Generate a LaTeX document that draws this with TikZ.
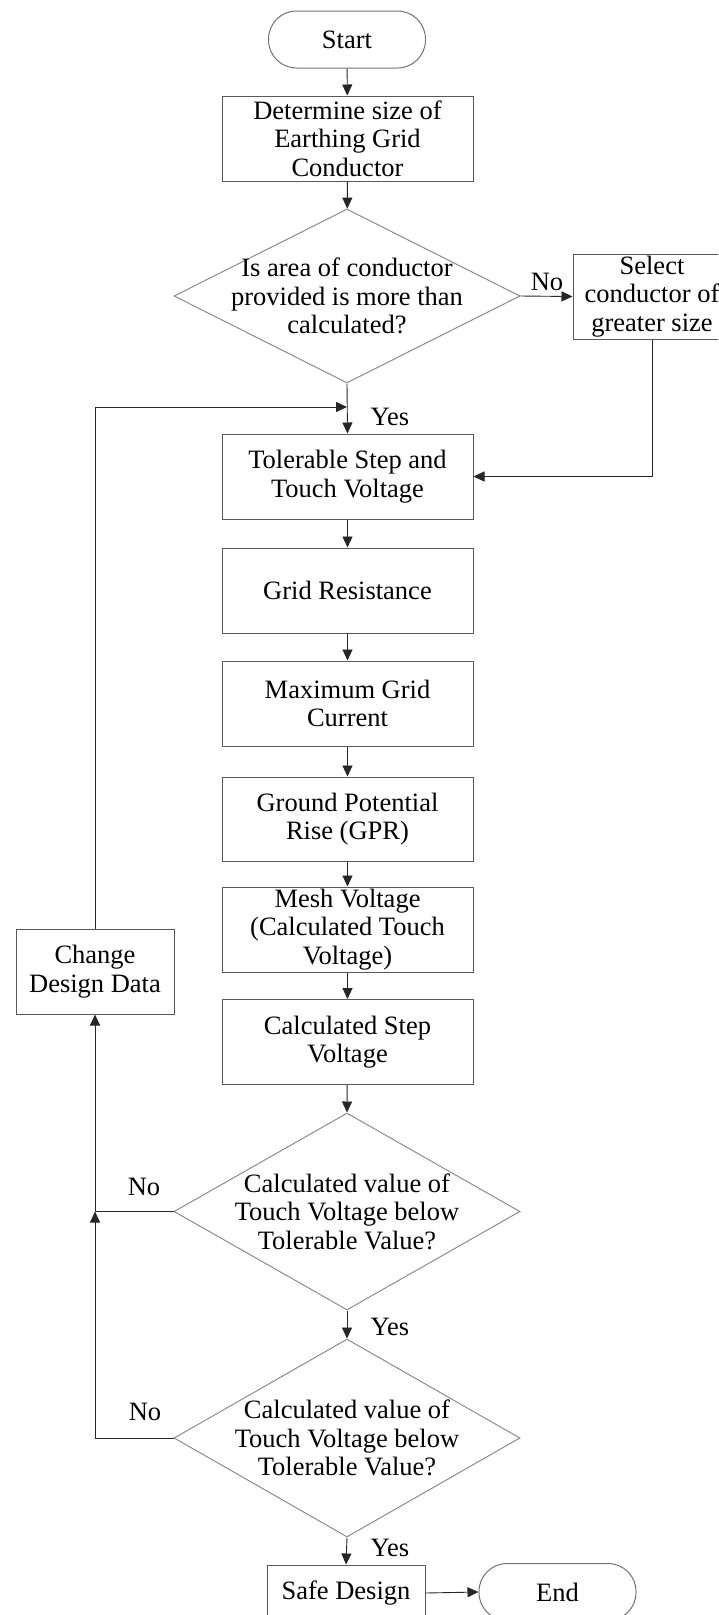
\documentclass[tikz,border=0pt]{standalone}
\usepackage{fontspec}
\setmainfont{Liberation Serif}
\usetikzlibrary{shapes.geometric,arrows.meta}
\begin{document}
\begin{tikzpicture}[x=1pt,y=-1pt,
  font=\fontsize{26.5}{28.5}\selectfont,
  box/.style={draw=black!65, line width=1pt, minimum width=251pt, minimum height=85pt, inner sep=0pt, align=center},
  term/.style={draw=black!55, line width=1pt, rounded corners=28pt, minimum width=157pt, minimum height=57pt, inner sep=0pt},
  dia/.style={draw=black!45, line width=1pt, diamond, minimum width=346pt, minimum height=#1, inner sep=0pt},
  txt/.style={align=center, inner sep=0pt},
  lbl/.style={inner sep=0pt},
  arr/.style={draw=black!85, line width=0.9pt, -{Triangle[length=11pt,width=10pt]}},
  ln/.style={draw=black!85, line width=0.9pt}]
\useasboundingbox (0,0) rectangle (718,1615);
\clip (0,0) rectangle (718,1615);
\node[term] (start) at (347,39.5) {Start};
\node[box] (det) at (347.5,138.5) {Determine size of\\Earthing Grid\\Conductor};
\node[dia=174pt] (d1) at (347,296) {};
\node[txt] (d1t) at (d1.center) {Is area of conductor\\provided is more than\\calculated?};
\node[box, minimum width=158pt] (sel) at (652,296.5) {Select\\conductor of\\greater size};
\node[box] (tol) at (347.5,476.5) {Tolerable Step and\\Touch Voltage};
\node[box] (gr) at (347.5,590.5) {Grid Resistance};
\node[box] (mgc) at (347.5,703.5) {Maximum Grid\\Current};
\node[box, minimum height=84pt] (gpr) at (347.5,819) {Ground Potential\\Rise (GPR)};
\node[box] (mesh) at (347.5,929.5) {Mesh Voltage\\(Calculated Touch\\Voltage)};
\node[box] (cstep) at (347.5,1042) {Calculated Step\\Voltage};
\node[box, minimum width=158pt] (chg) at (95,971.5) {Change\\Design Data};
\node[dia=197pt] (d2) at (347,1211.5) {};
\node[txt] (d2t) at (d2.center) {Calculated value of\\Touch Voltage below\\Tolerable Value?};
\node[dia=198pt] (d3) at (347,1438) {};
\node[txt] (d3t) at (d3.center) {Calculated value of\\Touch Voltage below\\Tolerable Value?};
\node[box, minimum width=158pt, minimum height=56pt] (safe) at (346,1593) {Safe Design};
\node[term] (end) at (557.5,1592) {End};
\coordinate (j1) at (347,407);
\coordinate (j2) at (95,1211.5);
% labels
\node[lbl] (no1) at (547,282) {No};
\node[lbl] (yes1) at (390,417) {Yes};
\node[lbl] (no2) at (144,1187) {No};
\node[lbl] (yes2) at (390,1327) {Yes};
\node[lbl] (no3) at (145,1412) {No};
\node[lbl] (yes3) at (390,1548) {Yes};
% connectors
\draw[arr] (start) -- (det);
\draw[arr] (det) -- (d1);
\draw[arr] (d1.east) -- (sel.west);
\draw[arr] (d1.south) -- (tol.north);
\draw[arr] (sel.south) |- (tol.east);
\draw[arr] (tol) -- (gr);
\draw[arr] (gr) -- (mgc);
\draw[arr] (mgc) -- (gpr);
\draw[arr] (gpr) -- (mesh);
\draw[arr] (mesh) -- (cstep);
\draw[arr] (cstep) -- (d2.north);
\draw[arr] (d2.south) -- (d3.north);
\draw[arr] (d3.south) -- (safe.north);
\draw[arr] (safe.east) -- (end.west);
\draw[arr] (d2.west) -| (chg.south);
\draw[arr] (d3.west) -| (j2);
\draw[arr] (chg.north) |- (j1);
\end{tikzpicture}
\end{document}
